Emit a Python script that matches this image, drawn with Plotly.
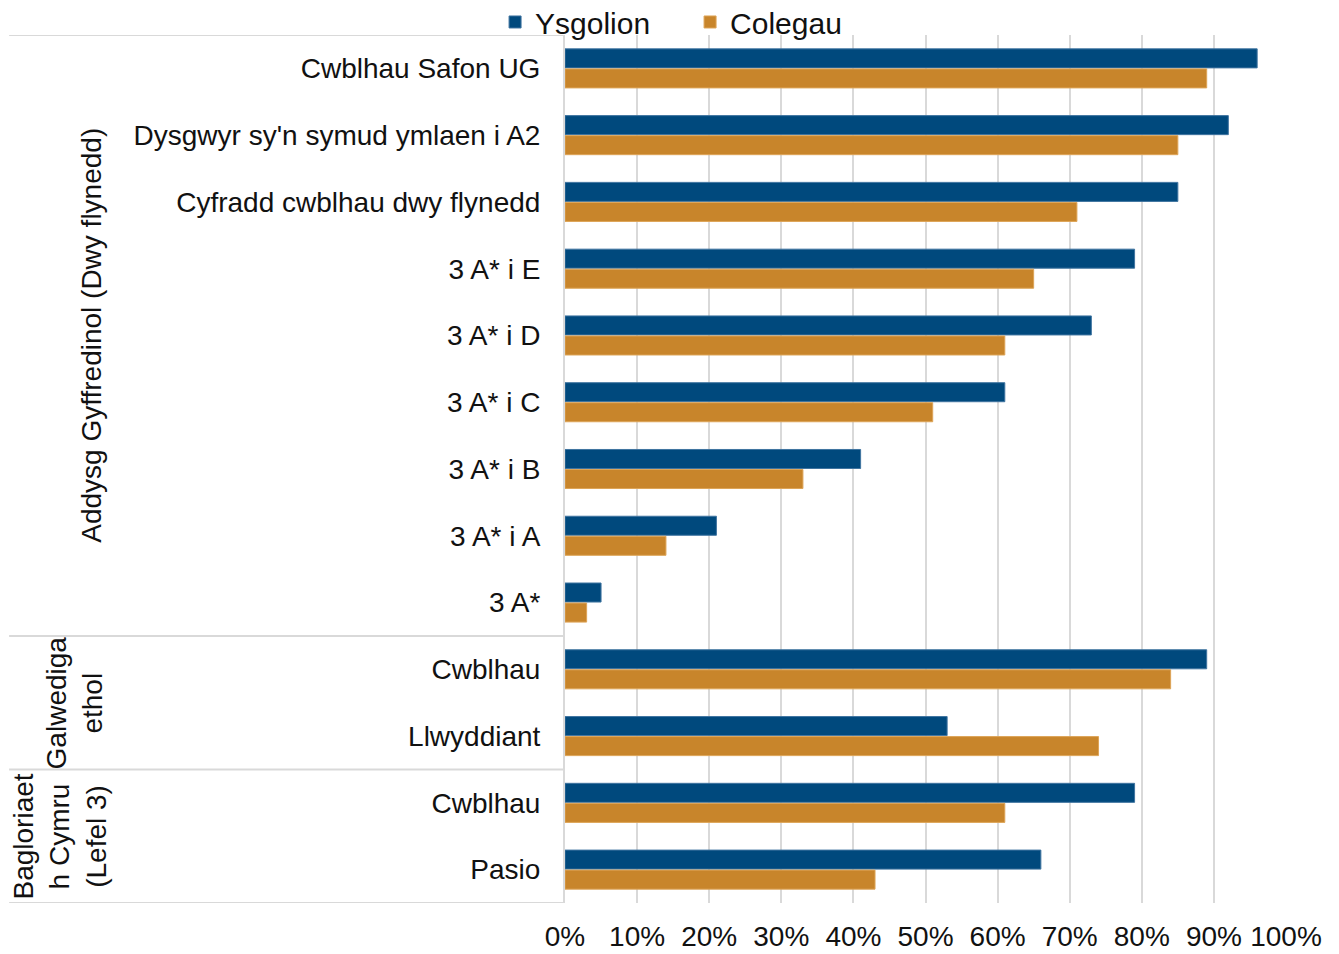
import plotly.graph_objects as go

# Row labels, top to bottom
categories = [
    "Cwblhau Safon UG", "Dysgwyr sy'n symud ymlaen i A2", "Cyfradd cwblhau dwy flynedd",
    "3 A* i E", "3 A* i D", "3 A* i C", "3 A* i B", "3 A* i A", "3 A*",
    "Cwblhau", "Llwyddiant",
    "Cwblhau", "Pasio",
]
# Groups (label, number of rows)
groups = [
    ("Addysg Gyffredinol (Dwy flynedd)", 9),
    ("Galwediga<br>ethol", 2),
    ("Bagloriaet<br>h Cymru<br>(Lefel 3)", 2),
]
group_label_x = [-0.657, -0.68, -0.70]

ysgolion = [96, 92, 85, 79, 73, 61, 41, 21, 5, 89, 53, 79, 66]
colegau = [89, 85, 71, 65, 61, 51, 33, 14, 3, 84, 74, 61, 43]

BLUE = "#00497D"
ORANGE = "#C8852B"
GRID = "#D9D9D9"
FONT = "Arial, Liberation Sans, sans-serif"

pos = list(range(len(categories)))

fig = go.Figure()
fig.add_trace(go.Bar(y=pos, x=ysgolion, name="Ysgolion", orientation="h",
                     marker=dict(color=BLUE, line=dict(color="#3F74A0", width=1))))
fig.add_trace(go.Bar(y=pos, x=colegau, name="Colegau", orientation="h",
                     marker=dict(color=ORANGE, line=dict(color="#DDA457", width=1))))

# group separators and labels
start = -0.5
shapes = [dict(type="line", xref="paper", yref="y", x0=-0.771, x1=0, y0=start, y1=start,
               line=dict(color=GRID, width=2))]
annotations = []
for (label, n), gx in zip(groups, group_label_x):
    end = start + n
    shapes.append(dict(type="line", xref="paper", yref="y", x0=-0.771, x1=0, y0=end, y1=end,
                       line=dict(color=GRID, width=2)))
    annotations.append(dict(text=label, xref="paper", yref="y", x=gx, y=(start + end) / 2,
                            textangle=-90, showarrow=False, xanchor="center", yanchor="middle",
                            font=dict(size=28, color="#111111", family=FONT)))
    start = end

fig.update_layout(
    width=1339, height=954,
    barmode="group", bargap=0.4, bargroupgap=0.05,
    plot_bgcolor="white", paper_bgcolor="white",
    margin=dict(l=557, r=61, t=27, b=59, autoexpand=False),
    font=dict(family=FONT, size=28, color="#111111"),
    shapes=shapes, annotations=annotations,
    legend=dict(orientation="h", x=-0.097, xanchor="left", y=1.015, yanchor="middle",
                font=dict(size=30), itemwidth=30, traceorder="normal",
                entrywidth=150, entrywidthmode="pixels",
                bgcolor="rgba(0,0,0,0)"),
    xaxis=dict(range=[0, 100], dtick=10, ticksuffix="%", showgrid=True, gridcolor=GRID,
               gridwidth=2, zeroline=False, showline=False, ticks="", automargin=False,
               ticklabelstandoff=14, tickfont=dict(size=28)),
    yaxis=dict(tickvals=pos, ticktext=categories, range=[len(categories) - 0.5, -0.5],
               showgrid=False, zeroline=False, showline=True, linecolor=GRID, linewidth=2,
               ticks="", ticklabelstandoff=17, automargin=False, tickfont=dict(size=28)),
)

fig.write_html("out.html")
